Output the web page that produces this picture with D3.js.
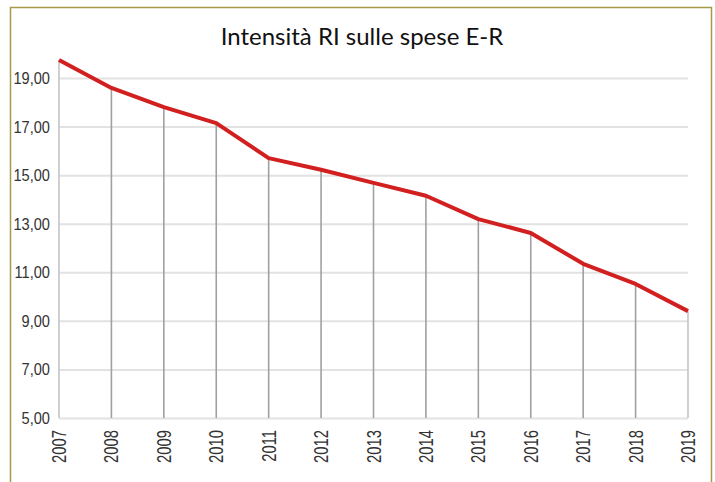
<!DOCTYPE html>
<html>
<head>
<meta charset="utf-8">
<script src="https://cdn.jsdelivr.net/npm/d3@7"></script>
<style>
  html, body { margin: 0; padding: 0; background: #fff; }
  svg { display: block; }
</style>
</head>
<body>
<div id="chart"></div>
<script>
/* Intensità RI sulle spese E-R — line with drop lines */

const years  = [2007, 2008, 2009, 2010, 2011, 2012, 2013, 2014, 2015, 2016, 2017, 2018, 2019];
const values = [19.74, 18.59, 17.80, 17.14, 15.70, 15.22, 14.68, 14.15, 13.19, 12.62, 11.35, 10.52, 9.40];
const yTicks = [5, 7, 9, 11, 13, 15, 17, 19];
const title  = 'Intensità RI sulle spese E-R';

const W = 715, H = 482;
const m = { left: 59, right: 27, top: 78, bottom: 64 };

const svg = d3.select('#chart').append('svg')
  .attr('width', W).attr('height', H);

/* olive frame (bottom edge runs off the picture) */
svg.append('path')
  .attr('d', `M10.5,${H + 2} V7.5 H711.5 V${H + 2}`)
  .attr('fill', 'none')
  .attr('stroke', '#a49a4a')
  .attr('stroke-width', 1.5);

const x = d3.scalePoint()
  .domain(years)
  .range([m.left, W - m.right]);

const y = d3.scaleLinear()
  .domain([5, 19])
  .range([H - m.bottom, m.top]);

const fmt = v => d3.format('.2f')(v).replace('.', ',');

/* horizontal grid */
svg.append('g')
  .attr('transform', `translate(${m.left},0)`)
  .call(d3.axisLeft(y).tickValues(yTicks).tickSize(-(W - m.right - m.left)).tickFormat(''))
  .call(g => g.select('.domain').remove())
  .call(g => g.selectAll('line')
    .attr('stroke', '#e2e2e2')
    .attr('stroke-width', 2));

/* y labels, condensed */
svg.append('g')
  .selectAll('text')
  .data(yTicks)
  .join('text')
  .attr('transform', d => `translate(50,${y(d) + 6}) scale(0.86,1)`)
  .attr('text-anchor', 'end')
  .attr('font-family', '"Liberation Sans Narrow", "Liberation Sans", sans-serif')
  .attr('font-size', 17)
  .attr('fill', '#333')
  .text(fmt);

/* drop lines */
svg.append('g')
  .selectAll('line')
  .data(years)
  .join('line')
  .attr('x1', d => x(d)).attr('x2', d => x(d))
  .attr('y1', y(5))
  .attr('y2', (d, i) => y(values[i]))
  .attr('stroke', (d, i) => (i === 0 || i === years.length - 1) ? '#c4c4c4' : '#a0a0a0')
  .attr('stroke-width', 1.6);

/* x labels, rotated */
svg.append('g')
  .selectAll('text')
  .data(years)
  .join('text')
  .attr('transform', d => `translate(${x(d) + 7},430) rotate(-90) scale(0.74,1)`)
  .attr('text-anchor', 'end')
  .attr('font-family', '"Liberation Sans Narrow", "Liberation Sans", sans-serif')
  .attr('font-size', 20)
  .attr('fill', '#333')
  .text(d => d);

/* series line */
svg.append('path')
  .datum(values)
  .attr('d', d3.line().x((d, i) => x(years[i])).y(d => y(d)))
  .attr('fill', 'none')
  .attr('stroke', '#d21f1f')
  .attr('stroke-width', 4)
  .attr('stroke-linejoin', 'round');

/* title */
svg.append('text')
  .attr('x', 362).attr('y', 45)
  .attr('text-anchor', 'middle')
  .attr('font-family', 'Lato, "Open Sans", sans-serif')
  .attr('font-weight', 400)
  .attr('font-size', 24)
  .attr('fill', '#111')
  .text(title);
</script>
</body>
</html>
